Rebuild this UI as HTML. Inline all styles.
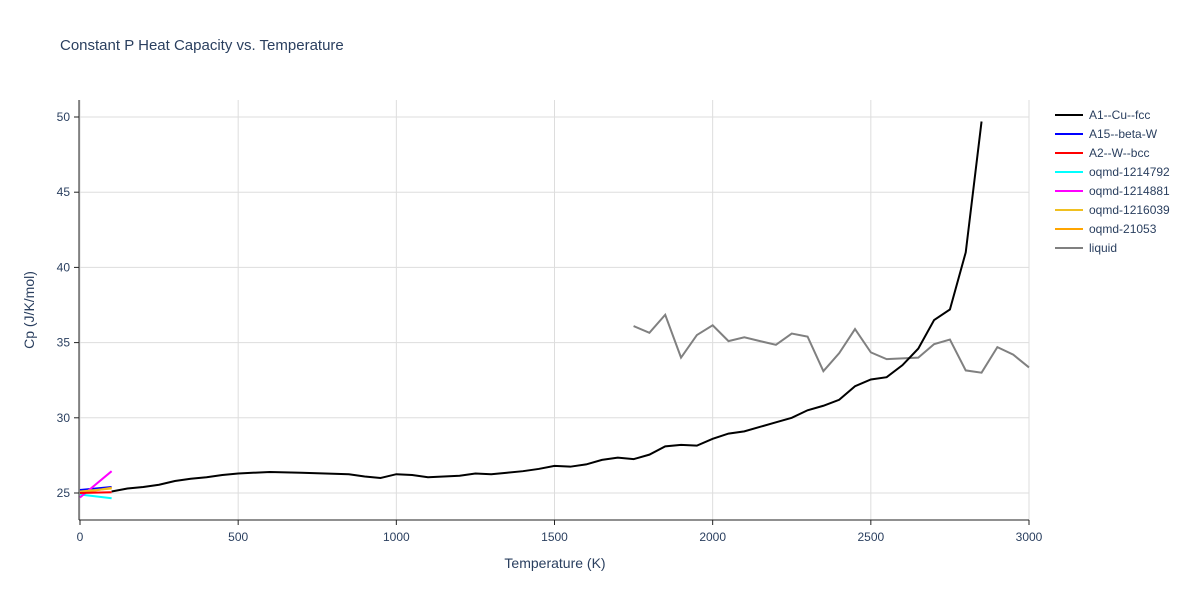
<!DOCTYPE html>
<html><head><meta charset="utf-8"><style>
body{margin:0;background:#fff;font-family:"Liberation Sans",sans-serif}
text{font-family:"Liberation Sans",sans-serif}
</style></head><body>
<svg id="c" width="1200" height="600"></svg>
<script>
const fccT=[100,150,200,250,300,350,400,450,500,600,700,850,900,950,1000,1050,1100,1150,1200,1250,1300,1350,1400,1450,1500,1550,1600,1650,1700,1750,1800,1850,1900,1950,2000,2050,2100,2150,2200,2250,2300,2350,2400,2450,2500,2550,2600,2650,2700,2750,2800,2850];
const fccCp=[25.1,25.3,25.4,25.55,25.8,25.95,26.05,26.2,26.3,26.4,26.35,26.25,26.1,26.0,26.25,26.2,26.05,26.1,26.15,26.3,26.25,26.35,26.45,26.6,26.8,26.75,26.9,27.2,27.35,27.25,27.55,28.1,28.2,28.15,28.6,28.95,29.1,29.4,29.7,30.0,30.5,30.8,31.2,32.1,32.55,32.7,33.5,34.6,36.5,37.2,41,49.7];
const liqT=[1750,1800,1850,1900,1950,2000,2050,2100,2150,2200,2250,2300,2350,2400,2450,2500,2550,2600,2650,2700,2750,2800,2850,2900,2950,3000];
const liqCp=[36.1,35.65,36.85,34.0,35.5,36.15,35.1,35.35,35.1,34.85,35.6,35.4,33.1,34.3,35.9,34.35,33.9,33.95,34.0,34.9,35.2,33.15,33.0,34.7,34.2,33.35];
const shortT=[0,100];
const a15Cp=[25.2,25.4];
const a2Cp=[25.0,25.05];
const q792Cp=[24.9,24.65];
const q881Cp=[24.7,26.45];
const q039Cp=[25.1,25.3];
const q053Cp=[25.0,25.35];
const xTicks=[0,500,1000,1500,2000,2500,3000];
const yTicks=[25,30,35,40,45,50];
const legendNames=["A1--Cu--fcc","A15--beta-W","A2--W--bcc","oqmd-1214792","oqmd-1214881","oqmd-1216039","oqmd-21053","liquid"];
const legendColors=["#000","#0000ff","#ff0000","#00ffff","#ff00ff","#f0c020","#ffa500","#808080"];

const svg=document.getElementById('c');const NS='http://www.w3.org/2000/svg';
const TC='#2a3f5f';
const X=v=>80+v*(949/3000);
const Y=v=>493-(v-25)*15.04;
function el(t,a,p){const e=document.createElementNS(NS,t);for(const k in a)e.setAttribute(k,a[k]);(p||svg).appendChild(e);return e;}
let t=el('text',{x:60,y:50,'font-size':15,fill:TC});t.textContent='Constant P Heat Capacity vs. Temperature';

xTicks.forEach(v=>{const l=el('line',{x1:X(v),x2:X(v),y1:100,y2:520,stroke:'#ddd'});

const s=el('text',{x:X(v),y:541,'font-size':12,fill:TC,'text-anchor':'middle'});s.textContent=v;
});
yTicks.forEach(v=>{const l=el('line',{x1:80,x2:1029,y1:Y(v),y2:Y(v),stroke:'#ddd'});

const s=el('text',{x:70,y:Y(v)+4,'font-size':12,fill:TC,'text-anchor':'end'});s.textContent=v;
});
let ax=el('line',{x1:79,x2:79,y1:100,y2:520,stroke:'#222'});
ax=el('line',{x1:79,x2:1029,y1:520,y2:520,stroke:'#222'});
for(let i=0;i<6;i++){el('line',{x1:74,x2:79,y1:Y(yTicks[i]),y2:Y(yTicks[i]),stroke:'#222'});}
xTicks.forEach(v=>el('line',{x1:X(v),x2:X(v),y1:520,y2:525,stroke:'#222'}));
t=el('text',{x:555,y:568,'font-size':14,fill:TC,'text-anchor':'middle'});t.textContent='Temperature (K)';

t=el('text',{x:34,y:310,'font-size':14,fill:TC,'text-anchor':'middle',transform:'rotate(-90 34 310)'});t.textContent='Cp (J/K/mol)';

function line(xs,ys,c,name){const p=el('polyline',{points:xs.map((x,i)=>X(x)+','+Y(ys[i])).join(' '),fill:'none',stroke:c,'stroke-width':2});
}
line(liqT,liqCp,'#808080','liquid-line');
line(fccT,fccCp,'#000','a1-cu-fcc-line');
line(shortT,a15Cp,'#0000ff','a15-beta-w-line');
line(shortT,q792Cp,'#00ffff','oqmd-1214792-line');
line(shortT,q881Cp,'#ff00ff','oqmd-1214881-line');
line(shortT,q053Cp,'#ffa500','oqmd-21053-line');
line(shortT,q039Cp,'#f0c020','oqmd-1216039-line');
line(shortT,a2Cp,'#ff0000','a2-w-bcc-line');
legendNames.forEach((n,i)=>{const g=el('g',{});
const y=115+i*19;el('line',{x1:1055,x2:1083,y1:y,y2:y,stroke:legendColors[i],'stroke-width':2},g);
const s=el('text',{x:1089,y:y+4,'font-size':12,fill:TC},g);s.textContent=n;});
</script></body></html>
